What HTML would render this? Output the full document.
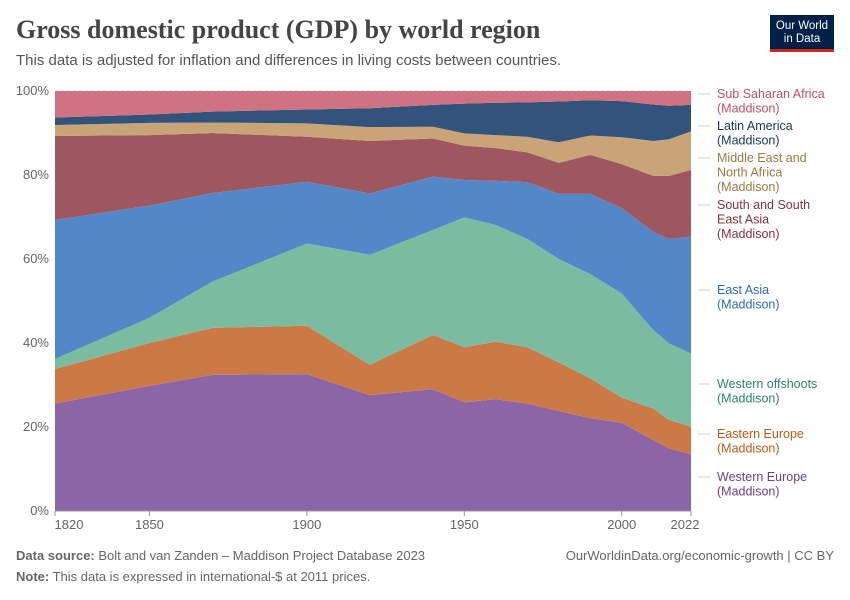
<!DOCTYPE html>
<html><head><meta charset="utf-8"><style>
body{margin:0;background:#fff;width:850px;height:600px;overflow:hidden;font-family:"Liberation Sans",sans-serif;position:relative}
.t{position:absolute;white-space:nowrap}
</style></head><body>
<div class="t" style="left:16px;top:15px;font-family:'Liberation Serif',serif;font-size:26px;font-weight:bold;color:#444">Gross domestic product (GDP) by world region</div>
<div class="t" style="left:16px;top:52px;font-size:15px;color:#555">This data is adjusted for inflation and differences in living costs between countries.</div>
<div style="position:absolute;left:770px;top:15px;width:64px;height:37px;background:#002147;border-bottom:3px solid #ce261e;box-sizing:border-box;color:#fff;font-size:11.5px;line-height:13px;text-align:center;padding-top:5px">Our World<br>in Data</div>
<svg id="chart" width="850" height="600" style="position:absolute;left:0;top:0"></svg>
<div class="t" style="left:16px;top:548px;font-size:13px;color:#666"><b>Data source:</b> Bolt and van Zanden – Maddison Project Database 2023</div>
<div class="t" style="right:16px;top:548px;font-size:13px;color:#666">OurWorldinData.org/economic-growth | CC BY</div>
<div class="t" style="left:16px;top:569px;font-size:13px;color:#666"><b>Note:</b> This data is expressed in international-$ at 2011 prices.</div>
<script>
const years=[1820,1850,1870,1900,1920,1940,1950,1960,1970,1980,1990,2000,2010,2015,2022];
const westernEurope=[25.6,29.8,32.4,32.6,27.6,29.0,25.9,26.6,25.6,23.8,22.1,21.0,16.9,14.9,13.5];
const easternEurope=[8.2,10.2,11.2,11.5,7.2,12.9,13.1,13.7,13.4,11.6,9.5,6.0,7.5,6.8,6.6];
const westernOffshoots=[2.4,6.0,11.0,19.6,26.2,25.0,30.9,27.8,25.8,24.6,24.8,24.8,18.7,18.2,17.4];
const eastAsia=[33.1,26.7,21.1,14.7,14.6,12.7,8.9,10.5,13.5,15.5,19.1,20.3,23.4,24.9,27.8];
const southAsia=[20.0,16.8,14.3,10.7,12.5,9.1,8.2,7.8,7.1,7.4,9.3,10.5,13.3,15.0,15.9];
const middleEast=[2.6,2.9,2.5,3.2,3.3,2.8,2.9,3.1,3.7,4.9,4.6,6.4,8.3,8.7,9.2];
const latinAmerica=[1.8,2.0,2.6,3.3,4.5,5.2,7.1,7.7,8.2,9.7,8.4,8.6,8.7,8.0,6.3];
const subSaharan=[6.3,5.6,4.9,4.4,4.1,3.3,3.0,2.8,2.7,2.5,2.2,2.4,3.2,3.5,3.3];
const yTicks=[0,20,40,60,80,100];
const xTicks=[1820,1850,1900,1950,2000,2022];
const series=[
 {name:"western-europe",v:westernEurope,c:"#8c65a7",tc:"#6d3e91",lab:["Western Europe","(Maddison)"],ly:477},
 {name:"eastern-europe",v:easternEurope,c:"#cb7a45",tc:"#be5915",lab:["Eastern Europe","(Maddison)"],ly:434},
 {name:"western-offshoots",v:westernOffshoots,c:"#7bbca1",tc:"#2c8465",lab:["Western offshoots","(Maddison)"],ly:384},
 {name:"east-asia",v:eastAsia,c:"#5388c8",tc:"#286bbb",lab:["East Asia","(Maddison)"],ly:290},
 {name:"south-southeast-asia",v:southAsia,c:"#9e575f",tc:"#883039",lab:["South and South","East Asia","(Maddison)"],ly:205},
 {name:"middle-east-north-africa",v:middleEast,c:"#c8a477",tc:"#a2773f",lab:["Middle East and","North Africa","(Maddison)"],ly:158},
 {name:"latin-america",v:latinAmerica,c:"#32537b",tc:"#18375f",lab:["Latin America","(Maddison)"],ly:126},
 {name:"sub-saharan-africa",v:subSaharan,c:"#cf7282",tc:"#c15065",lab:["Sub Saharan Africa","(Maddison)"],ly:94}
];
const X0=55,X1=691,Y0=511,Y1=91;
const xs=y=>X0+(y-1820)/(2022-1820)*(X1-X0);
const ys=p=>Y0-p/100*(Y0-Y1);
const svg=document.getElementById('chart');
const NS="http://www.w3.org/2000/svg";
function mk(t,a){const e=document.createElementNS(NS,t);for(const k in a)e.setAttribute(k,a[k]);svg.appendChild(e);return e;}
yTicks.forEach(t=>{
 const l=mk('line',{x1:X0,x2:X1,y1:ys(t),y2:ys(t),stroke:'#ddd','stroke-dasharray':'3,3'});
 
 
 const tx=mk('text',{x:49,y:ys(t)+4,'text-anchor':'end','font-size':'13',fill:'#666','font-family':'Liberation Sans'});
 tx.textContent=t+'%';
 
 
});
const totals=years.map((_,i)=>series.reduce((s,S)=>s+S.v[i],0));
let base=years.map(()=>0);
series.forEach(S=>{
 const top=years.map((_,i)=>base[i]+S.v[i]/totals[i]*100);
 let d='M'+years.map((y,i)=>xs(y)+','+ys(top[i])).join('L');
 for(let i=years.length-1;i>=0;i--)d+='L'+xs(years[i])+','+ys(base[i]);
 const p=mk('path',{d:d+'Z',fill:S.c});
 
 
 const ln=mk('line',{x1:X1+7,x2:X1+19,y1:S.ly,y2:S.ly,stroke:'#ccc'});
 
 
 S.lab.forEach((t,j)=>{
  const tx=mk('text',{x:717,y:S.ly+4+j*14.6,'font-size':'12.5',fill:S.tc,'font-family':'Liberation Sans'});
  tx.textContent=t;
  
  
 });
 base=top;
});
const ax=mk('line',{x1:X0,x2:X1,y1:Y0,y2:Y0,stroke:'#999'});


xTicks.forEach(t=>{
 const tk=mk('line',{x1:xs(t),x2:xs(t),y1:Y0,y2:Y0+5,stroke:'#999'});
 
 
 const tx=mk('text',{x:t===1820?xs(t)+14:(t===2022?xs(t)-6:xs(t)),y:529,'text-anchor':'middle','font-size':'13',fill:'#666','font-family':'Liberation Sans'});
 tx.textContent=t;
 
 
});
</script>
</body></html>
